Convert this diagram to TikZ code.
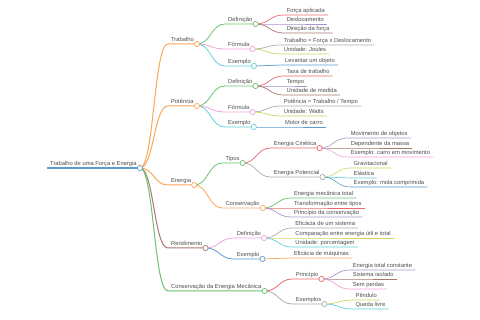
\documentclass[tikz,border=0pt]{standalone}
\usepackage{fontspec}
\setmainfont{Liberation Sans}
\usetikzlibrary{calc}
\definecolor{c0}{HTML}{5A9BD0}
\definecolor{c1}{HTML}{F8A85C}
\definecolor{c2}{HTML}{6CC36C}
\definecolor{c3}{HTML}{E8686B}
\definecolor{c4}{HTML}{AD92D0}
\definecolor{c5}{HTML}{A8786E}
\definecolor{c6}{HTML}{EDA3D8}
\definecolor{c7}{HTML}{ABABAB}
\definecolor{c8}{HTML}{D2D35E}
\definecolor{c9}{HTML}{5FCFDC}
\definecolor{txt}{HTML}{4D4D4D}
\tikzset{
  mm/.style={anchor=south west, inner xsep=3pt, inner ysep=1.2pt, text=txt,
    font=\fontsize{5.8}{6}\selectfont, text height=4.3pt, text depth=1.2pt},
  knob/.style={fill=white, line width=0.7pt},
}
\newcommand\mmnode[6]{%
  \path let \p1=(#2.south east) in node[mm] (#1) at (\x1+28pt,-#3pt) {#6};
  \draw[draw=#4, line width=#5] (#2.south east) .. controls +(14pt,0) and +(-14pt,0) .. (#1.south west) -- (#1.south east);
}
\begin{document}
\begin{tikzpicture}[x=1pt,y=1pt]
\useasboundingbox (0,0) rectangle (480,-320);
\node[mm] (root) at (47,-168) {Trabalho de uma Força e Energia};
\draw[c0, line width=1.2pt] (root.south west) -- (root.south east);
% level 1
\mmnode{t}{root}{44}{c1}{1pt}{Trabalho}
\mmnode{p}{root}{106}{c1}{1pt}{Potência}
\mmnode{e}{root}{185}{c1}{1pt}{Energia}
\mmnode{r}{root}{248}{c5}{1pt}{Rendimento}
\mmnode{c}{root}{291}{c2}{1pt}{Conservação da Energia Mecânica}
% Trabalho
\mmnode{td}{t}{24}{c2}{0.8pt}{Definição}
\mmnode{tf}{t}{49}{c6}{0.8pt}{Fórmula}
\mmnode{te}{t}{66}{c9}{0.8pt}{Exemplo}
\mmnode{td1}{td}{15}{c3}{0.7pt}{Força aplicada}
\mmnode{td2}{td}{24}{c4}{0.7pt}{Deslocamento}
\mmnode{td3}{td}{33}{c5}{0.7pt}{Direção da força}
\mmnode{tf1}{tf}{45}{c7}{0.7pt}{Trabalho = Força x Deslocamento}
\mmnode{tf2}{tf}{54}{c8}{0.7pt}{Unidade: Joules}
\mmnode{te1}{te}{65}{c0}{0.7pt}{Levantar um objeto}
% Potencia
\mmnode{pd}{p}{86}{c2}{0.8pt}{Definição}
\mmnode{pf}{p}{112}{c6}{0.8pt}{Fórmula}
\mmnode{pe}{p}{127}{c9}{0.8pt}{Exemplo}
\mmnode{pd1}{pd}{76}{c3}{0.7pt}{Taxa de trabalho}
\mmnode{pd2}{pd}{86}{c4}{0.7pt}{Tempo}
\mmnode{pd3}{pd}{95}{c5}{0.7pt}{Unidade de medida}
\mmnode{pf1}{pf}{106}{c7}{0.7pt}{Potência = Trabalho / Tempo}
\mmnode{pf2}{pf}{116}{c8}{0.7pt}{Unidade: Watts}
\mmnode{pe1}{pe}{127}{c0}{0.7pt}{Motor de carro}
% Energia
\mmnode{et}{e}{163}{c2}{0.8pt}{Tipos}
\mmnode{ec}{e}{208}{c1}{0.8pt}{Conservação}
\mmnode{etc}{et}{148}{c3}{0.7pt}{Energia Cinética}
\mmnode{etp}{et}{177}{c7}{0.7pt}{Energia Potencial}
\mmnode{etca}{etc}{138}{c4}{0.6pt}{Movimento de objetos}
\mmnode{etcb}{etc}{148}{c5}{0.6pt}{Dependente da massa}
\mmnode{etcc}{etc}{157}{c6}{0.6pt}{Exemplo: carro em movimento}
\mmnode{etpa}{etp}{168}{c8}{0.6pt}{Gravitacional}
\mmnode{etpb}{etp}{178}{c9}{0.6pt}{Elástica}
\mmnode{etpc}{etp}{187}{c0}{0.6pt}{Exemplo: mola comprimida}
\mmnode{ec1}{ec}{198}{c2}{0.7pt}{Energia mecânica total}
\mmnode{ec2}{ec}{208}{c3}{0.7pt}{Transformação entre tipos}
\mmnode{ec3}{ec}{217}{c4}{0.7pt}{Princípio da conservação}
% Rendimento
\mmnode{rd}{r}{238}{c6}{0.8pt}{Definição}
\mmnode{re}{r}{259}{c0}{0.8pt}{Exemplo}
\mmnode{rd1}{rd}{228}{c7}{0.7pt}{Eficácia de um sistema}
\mmnode{rd2}{rd}{238}{c8}{0.7pt}{Comparação entre energia útil e total}
\mmnode{rd3}{rd}{247}{c9}{0.7pt}{Unidade: porcentagem}
\mmnode{re1}{re}{258}{c1}{0.7pt}{Eficácia de máquinas}
% Conservacao da Energia Mecanica
\mmnode{cp}{c}{279}{c3}{0.8pt}{Princípio}
\mmnode{ce}{c}{304}{c7}{0.8pt}{Exemplos}
\mmnode{cp1}{cp}{270}{c4}{0.7pt}{Energia total constante}
\mmnode{cp2}{cp}{279}{c5}{0.7pt}{Sistema isolado}
\mmnode{cp3}{cp}{289}{c6}{0.7pt}{Sem perdas}
\mmnode{ce1}{ce}{300}{c8}{0.7pt}{Pêndulo}
\mmnode{ce2}{ce}{309}{c9}{0.7pt}{Queda livre}
% knobs
\foreach \n/\c in {root/c0,t/c1,p/c1,e/c1,r/c5,c/c2,td/c2,tf/c6,te/c9,pd/c2,pf/c6,pe/c9,et/c2,ec/c1,etc/c3,etp/c7,rd/c6,re/c0,cp/c3,ce/c7}
  \draw[knob, draw=\c] (\n.south east) circle (2.6pt);
\end{tikzpicture}
\end{document}
